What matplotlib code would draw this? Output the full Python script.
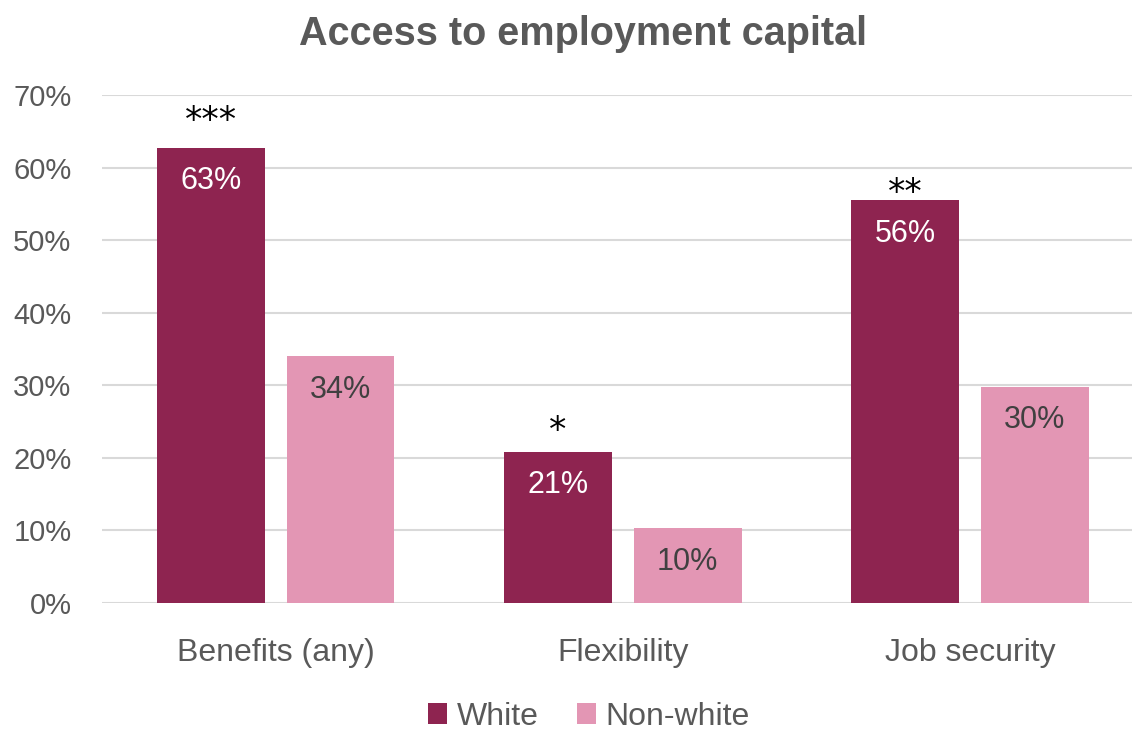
import matplotlib.pyplot as plt
import numpy as np
from matplotlib import font_manager

categories = ['Benefits (any)', 'Flexibility', 'Job security']
white_vals = [62.7, 20.8, 55.5]
nonwhite_vals = [34.0, 10.3, 29.8]
white_labels = ['63%', '21%', '56%']
nonwhite_labels = ['34%', '10%', '30%']
stars = ['***', '*', '**']

names = {f.name for f in font_manager.fontManager.ttflist}
fam = ['Liberation Sans Narrow', 'Liberation Sans', 'DejaVu Sans']
fam = [f for f in fam if f in names] or ['DejaVu Sans']
plt.rcParams['font.family'] = fam

c_white = '#8e2450'
c_non = '#e396b4'
gray = '#595959'

fig = plt.figure(figsize=(11.32, 7.37), dpi=100)
ax = fig.add_axes([0.0901, 0.1818, 0.9099, 0.6893])

X = np.arange(len(categories))
w = 0.311
off = 0.187
r1 = ax.bar(X - off, white_vals, width=w, color=c_white, label='White', zorder=3)
r2 = ax.bar(X + off, nonwhite_vals, width=w, color=c_non, label='Non-white', zorder=3)

for rect, lab in zip(r1, white_labels):
    ax.text(rect.get_x() + rect.get_width() / 2, rect.get_height() - 4.6, lab,
            ha='center', va='center', color='white', fontsize=22, zorder=4)
for rect, lab in zip(r2, nonwhite_labels):
    ax.text(rect.get_x() + rect.get_width() / 2, rect.get_height() - 4.6, lab,
            ha='center', va='center', color='#404040', fontsize=22, zorder=4)
# stars sit a bit differently above each bar in the original
star_offsets = [3.7, 2.9, 1.0]
for rect, s, o in zip(r1, stars, star_offsets):
    ax.text(rect.get_x() + rect.get_width() / 2, rect.get_height() + o, s,
            ha='center', va='center', color='black', fontsize=25, family='DejaVu Sans', zorder=4)

ax.set_ylim(0, 70)
ax.set_xlim(-0.5, 2.467)
ax.set_yticks(np.arange(0, 71, 10))
ax.set_yticklabels(['{}%'.format(v) for v in range(0, 71, 10)])
ax.set_xticks(X)
ax.set_xticklabels(categories)
ax.tick_params(axis='both', length=0, labelcolor=gray)
ax.tick_params(axis='x', pad=25, labelsize=23)
ax.tick_params(axis='y', pad=22, labelsize=21)
ax.grid(axis='y', color='#d9d9d9', linewidth=1.5, zorder=0)
for sp in ax.spines.values():
    sp.set_visible(False)

fig.suptitle('Access to employment capital', x=0.515, y=0.98, va='top',
             fontsize=28.5, fontweight='bold', color=gray)
leg = fig.legend(loc='lower center', bbox_to_anchor=(0.52, -0.032), ncol=2, frameon=False,
                 fontsize=23, handlelength=0.6, handleheight=0.6, handletextpad=0.3, columnspacing=1.2)
for t in leg.get_texts():
    t.set_color(gray)

fig.savefig('out.png', dpi=100)
